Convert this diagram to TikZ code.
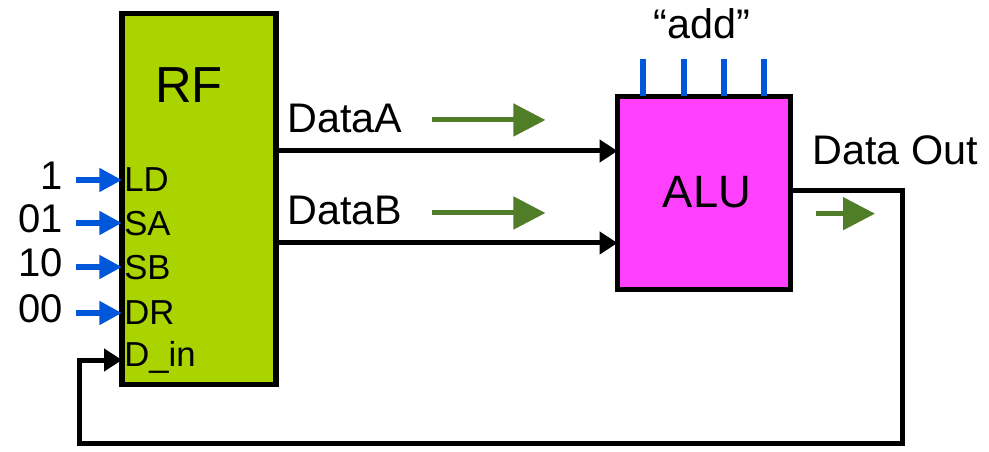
\documentclass[tikz,border=0pt]{standalone}
\usepackage{fontspec}
\setmainfont{Liberation Sans}
\usepackage{xcolor}
\usetikzlibrary{arrows.meta, calc, positioning}
\definecolor{rfgreen}{HTML}{AAD400}
\definecolor{alupink}{HTML}{FF40FF}
\definecolor{ctlblue}{HTML}{0057D9}
\definecolor{flowgreen}{HTML}{4F7D28}
\tikzset{
  %unit node style
  unit/.style={
    draw
    , line width=3.8pt
    , outer sep=0pt
    , inner sep=0pt
    , anchor=center
    %, rounded corners
  },
  bus/.style={line width=3.75pt, -{Triangle[length=13.5pt,width=16.5pt]}},
}

\begin{document}
\begin{tikzpicture}[x=0.75pt, y=-0.75pt]
  \tikzstyle{rf}=[unit, fill=rfgreen, minimum width=115.5pt, minimum height=278.25pt]
  \tikzstyle{alu}=[unit, fill=alupink, minimum width=129.75pt, minimum height=144.75pt]
  \tikzstyle{big}=[inner sep=0pt, font=\fontsize{38}{38}\selectfont]
  \tikzstyle{lbl}=[inner sep=0pt, font=\fontsize{31}{31}\selectfont]
  \tikzstyle{port}=[inner sep=0pt, text depth=0pt, anchor=west, font=\fontsize{26}{26}\selectfont]
  \tikzstyle{num}=[inner sep=0pt, anchor=east, font=\fontsize{30}{30}\selectfont]
  \tikzstyle{sig}=[ctlblue, line width=5pt, -{Triangle[length=17pt,width=17pt]}]
  \tikzstyle{ctl}=[ctlblue, line width=5pt]
  \tikzstyle{flow}=[flowgreen, line width=3.75pt, -{Triangle[length=24pt,width=24pt]}]
  \useasboundingbox (0,0) rectangle (989,452);

  \node [rf] (rf) at (199,199) {};
  \node [alu] (alu) at (704,193) {};
  \node [big, anchor=base] (rfname) at (189,103) {RF};
  \node [big, anchor=base, font=\fontsize{34}{34}\selectfont] (aluname) at (707,208) {ALU};

  \node [lbl, anchor=base west] (dA) at (287,133) {DataA};
  \node [lbl, anchor=base west] (dB) at (287,225) {DataB};
  \node [lbl, anchor=base west] (dout) at (812,165) {Data Out};
  \node [lbl, anchor=base] (op) at (702,39) {“add”};

  %control inputs
  \foreach \n/\lab/\val/\yy in {ld/LD/1/180, sa/SA/01/223, sb/SB/10/267, dr/DR/00/313}{
    \node [port] (\n) at (124,\yy) {\lab};
    \node [num] (v-\n) at (63,\yy-4) {\val};
    \draw [sig] ($(v-\n.east |- \n)+(13,0)$) -- (\n -| rf.west);
  }
  \node [port] (din) at (124,354) {D\_in};

  \foreach \x in {643,684,724,764}
    \draw [ctl] (\x,59) -- (\x,0 |- alu.north);

  \coordinate (a-in) at ($(alu.west)+(0,-42)$);
  \coordinate (b-in) at ($(alu.west)+(0,50)$);
  \draw [bus] (rf.east |- a-in) -- (a-in);
  \draw [bus] (rf.east |- b-in) -- (b-in);

  %feedback to D_in
  \coordinate (back-r) at (902,443);
  \coordinate (back-l) at (79,443);
  \coordinate (din-in) at (rf.west |- 0,360);
  \draw [bus] ($(alu.east)+(0,-2)$) -| (back-r) -- (back-l) |- (din-in);

  \draw [flow] ($(dA.east)+(30,1)$) -- ++(113,0);
  \draw [flow] ($(dB.east)+(30,2)$) -- ++(113,0);
  \draw [flow] ($(dout.south west)+(4,48)$) -- ++(59,0);

\end{tikzpicture}
\end{document}
